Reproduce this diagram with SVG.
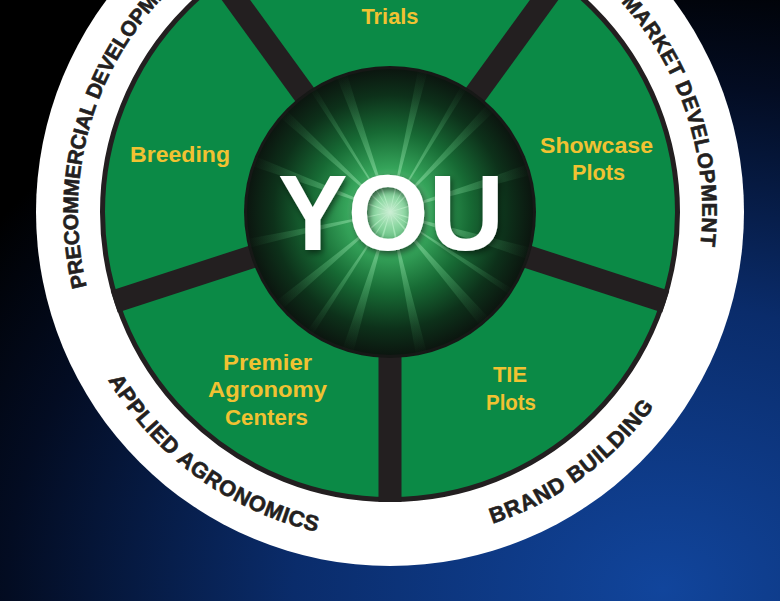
<svg xmlns="http://www.w3.org/2000/svg" width="780" height="601" viewBox="0 0 780 601">
  <style>
    .lbl { font-family: "Liberation Sans", Arial, sans-serif; font-weight: bold; font-size: 22px; fill: #f1c232; text-anchor: middle; }
    .ring { font-family: "Liberation Sans", Arial, sans-serif; font-weight: bold; fill: #231f20; stroke: #231f20; stroke-width: 0.6; }
    .spoke { stroke: #231f20; stroke-width: 23; stroke-linecap: butt; }
  </style>
  <defs>
    <radialGradient id="bg" cx="0.85" cy="0.98" r="1.05">
      <stop offset="0" stop-color="#11459c"/>
      <stop offset="0.45" stop-color="#0a2c6b"/>
      <stop offset="0.8" stop-color="#030c22"/>
      <stop offset="1" stop-color="#000000"/>
    </radialGradient>
    <radialGradient id="glow" cx="390" cy="212" r="146" gradientUnits="userSpaceOnUse">
      <stop offset="0" stop-color="#cdeed5"/>
      <stop offset="0.1" stop-color="#8fd8a4"/>
      <stop offset="0.3" stop-color="#35a45a"/>
      <stop offset="0.55" stop-color="#176a34"/>
      <stop offset="0.8" stop-color="#0d311a"/>
      <stop offset="1" stop-color="#0b130e"/>
    </radialGradient>
    <radialGradient id="rayfade" cx="390" cy="212" r="146" gradientUnits="userSpaceOnUse">
      <stop offset="0" stop-color="#d8ffe0" stop-opacity="0.6"/>
      <stop offset="0.6" stop-color="#7fe09a" stop-opacity="0.25"/>
      <stop offset="1" stop-color="#4fc070" stop-opacity="0"/>
    </radialGradient>
    <clipPath id="core">
      <circle cx="390" cy="212" r="145"/>
    </clipPath>
    <filter id="shadow" x="-20%" y="-20%" width="140%" height="140%">
      <feDropShadow dx="2" dy="3" stdDeviation="3" flood-color="#000" flood-opacity="0.55"/>
    </filter>
    <path id="arcPre" d="M 243.5 487.5 A 312 312 0 0 1 433.4 -97.0"/>
    <path id="arcMkt" d="M 346.6 -97.0 A 312 312 0 0 1 536.5 487.5"/>
    <path id="arcBrand" d="M 162.1 447.9 A 328 328 0 0 0 684.8 68.2"/>
    <path id="arcApp" d="M 95.2 68.2 A 328 328 0 0 0 617.9 447.9"/>
  </defs>

  <rect x="0" y="0" width="780" height="601" fill="url(#bg)"/>

  <g id="outer-ring">
    <circle cx="390" cy="212" r="354" fill="#ffffff"/>
  </g>

  <g id="wheel">
    <circle cx="390" cy="212" r="287.5" fill="#0b8a46" stroke="#231f20" stroke-width="5"/>
  </g>

  <g id="connectors">
    <line class="spoke" x1="390" y1="212" x2="560.5" y2="-22.6"/>
    <line class="spoke" x1="390" y1="212" x2="665.8" y2="301.6"/>
    <line class="spoke" x1="390" y1="212" x2="390" y2="502"/>
    <line class="spoke" x1="390" y1="212" x2="114.2" y2="301.6"/>
    <line class="spoke" x1="390" y1="212" x2="219.5" y2="-22.6"/>
  </g>

  <g id="you">
    <circle cx="390" cy="212" r="146" fill="#161816"/>
    <circle cx="390" cy="212" r="143" fill="url(#glow)"/>
    <g clip-path="url(#core)" fill="url(#rayfade)">
      <polygon points="390,212 240,150 240,162"/>
      <polygon points="390,212 260,100 268,92"/>
      <polygon points="390,212 330,60 342,58"/>
      <polygon points="390,212 420,60 430,62"/>
      <polygon points="390,212 500,90 508,98"/>
      <polygon points="390,212 540,160 542,172"/>
      <polygon points="390,212 540,250 536,262"/>
      <polygon points="390,212 500,330 490,338"/>
      <polygon points="390,212 430,365 418,366"/>
      <polygon points="390,212 350,365 338,362"/>
      <polygon points="390,212 270,320 262,312"/>
      <polygon points="390,212 240,250 242,240"/>
      <polygon points="390,212 300,75 306,72"/>
      <polygon points="390,212 470,70 476,74"/>
      <polygon points="390,212 530,300 526,306"/>
      <polygon points="390,212 300,355 294,350"/>
    </g>
    <text x="391" y="250" font-family="'Liberation Sans', Arial, sans-serif" font-weight="bold" font-size="108" fill="#ffffff" text-anchor="middle" textLength="226" lengthAdjust="spacingAndGlyphs" filter="url(#shadow)">YOU</text>
  </g>

  <g id="trials">
    <text class="lbl" x="390" y="24" textLength="57" lengthAdjust="spacingAndGlyphs">Trials</text>
  </g>
  <g id="showcase-plots">
    <text class="lbl" x="596.5" y="153" textLength="113" lengthAdjust="spacingAndGlyphs">Showcase</text>
    <text class="lbl" x="598.5" y="180" textLength="53" lengthAdjust="spacingAndGlyphs">Plots</text>
  </g>
  <g id="tie-plots">
    <text class="lbl" x="510" y="382" textLength="34" lengthAdjust="spacingAndGlyphs">TIE</text>
    <text class="lbl" x="511" y="410" textLength="50" lengthAdjust="spacingAndGlyphs">Plots</text>
  </g>
  <g id="premier-agronomy-centers">
    <text class="lbl" x="267.5" y="370" textLength="89" lengthAdjust="spacingAndGlyphs">Premier</text>
    <text class="lbl" x="267.5" y="397" textLength="119" lengthAdjust="spacingAndGlyphs">Agronomy</text>
    <text class="lbl" x="266.5" y="425" textLength="83" lengthAdjust="spacingAndGlyphs">Centers</text>
  </g>
  <g id="breeding">
    <text class="lbl" x="180" y="162" textLength="100" lengthAdjust="spacingAndGlyphs">Breeding</text>
  </g>

  <g id="precommercial-development">
    <text class="ring" font-size="21" letter-spacing="-0.26"><textPath href="#arcPre" startOffset="50%" text-anchor="middle">PRECOMMERCIAL DEVELOPMENT</textPath></text>
  </g>
  <g id="market-development">
    <text class="ring" font-size="21" letter-spacing="0.5"><textPath href="#arcMkt" startOffset="50%" text-anchor="middle">MARKET DEVELOPMENT</textPath></text>
  </g>
  <g id="brand-building">
    <text class="ring" font-size="22" letter-spacing="0.86"><textPath href="#arcBrand" startOffset="50%" text-anchor="middle">BRAND BUILDING</textPath></text>
  </g>
  <g id="applied-agronomics">
    <text class="ring" font-size="22" letter-spacing="0.62"><textPath href="#arcApp" startOffset="50%" text-anchor="middle">APPLIED AGRONOMICS</textPath></text>
  </g>
</svg>
